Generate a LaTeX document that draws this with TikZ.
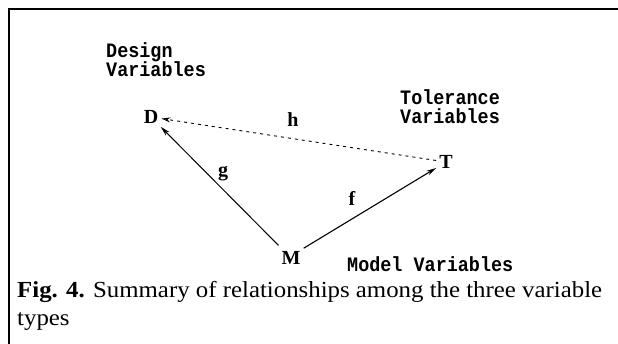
\documentclass[tikz,border=0pt]{standalone}
\usepackage{fontspec}
\setmainfont{Liberation Serif}
\newfontfamily\labfont{Liberation Mono}[FakeStretch=0.9]
\newfontfamily\capfont{Liberation Serif}[FakeStretch=1.08]
\usetikzlibrary{arrows.meta}
\tikzset{
  frameline/.style={line width=1.8pt, line cap=butt},
  var/.style={font=\fontsize{20}{20}\selectfont\bfseries, inner sep=3pt},
  rel/.style={font=\fontsize{20}{20}\selectfont\bfseries, inner sep=0pt},
  grp/.style={font=\labfont\bfseries\fontsize{20.5}{19.5}\selectfont, align=left, inner sep=0pt},
  solidarrow/.style={line width=1.1pt, -{Stealth[length=10pt,width=5pt]}},
  openarrow/.style={line width=1pt, -{Stealth[open,length=10pt,width=5pt]}},
  dasharrow/.style={line width=0.9pt, dash pattern=on 3pt off 4pt, -{Stealth[open,length=9pt,width=5pt]}},
}
\begin{document}
\begin{tikzpicture}[x=1pt,y=-1pt]
\useasboundingbox (0,0) rectangle (618,344);
\coordinate (ftl) at (9,9);
\coordinate (ftr) at (618,9);
\coordinate (fbl) at (9,344);
\draw[frameline] (ftr) -- (ftl) -- (fbl);
\node[var] (D) at (151,117) {D};
\node[var] (T) at (446,162) {T};
\node[var] (M) at (291,258) {M};
\node[grp, anchor=north west] (dv) at (106,42) {Design\\Variables};
\node[grp, anchor=north west] (tv) at (400,89) {Tolerance\\Variables};
\node[grp, anchor=base west] (mv) at (347,272) {Model Variables};
\draw[openarrow, shorten <=4pt] (M) -- (D);
\draw[solidarrow] (M.north east) -- (T);
\draw[dasharrow] (T) -- (D);
\node[rel] (g) at (223,174) {g};
\node[rel] (h) at (293,120) {h};
\node[rel] (f) at (352,198) {f};
\node[anchor=north west, align=left, inner sep=0pt, font=\capfont\fontsize{23}{28}\selectfont] (cap) at (17,281)
  {\textbf{Fig. 4.} Summary of relationships among the three variable\\types};
\end{tikzpicture}
\end{document}
